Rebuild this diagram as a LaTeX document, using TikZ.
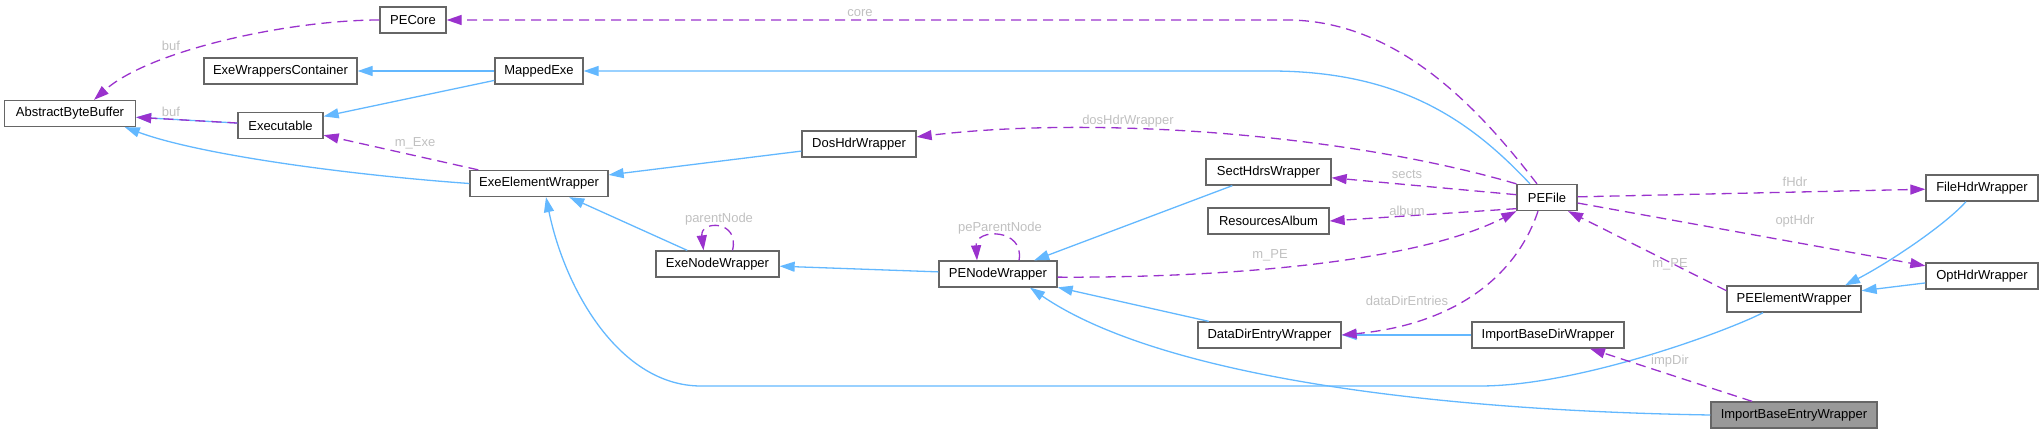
\documentclass[tikz,border=0pt]{standalone}
\usepackage{fontspec}
\setmainfont{Liberation Sans}
\usetikzlibrary{arrows.meta}
\definecolor{inhblue}{HTML}{63B8FF}
\definecolor{usepurple}{HTML}{9A32CD}
\definecolor{boxgrey}{HTML}{666666}
\definecolor{labgrey}{HTML}{C0C0C0}
\definecolor{hlfill}{HTML}{999999}
\tikzset{
  cls/.style={draw=boxgrey,fill=white,line width=1.3pt,minimum height=26pt,inner sep=2pt,font=\fontsize{13}{15}\selectfont},
  hlcls/.style={cls,fill=hlfill},
  inh/.style={draw=inhblue,line width=1.3pt,-{Triangle[length=15pt,width=10pt]}},
  uses/.style={draw=usepurple,line width=1.3pt,dash pattern=on 10pt off 6pt,-{Triangle[length=15pt,width=10pt]}},
  lab/.style={font=\fontsize{13}{15}\selectfont,text=labgrey,inner sep=0pt},
}

\begin{document}
\begin{tikzpicture}[x=1pt,y=-1pt]
  \useasboundingbox (0,0) rectangle (2043,433);
  % classes
  \node[cls,minimum width=66pt] (pecore) at (413,20) {PECore};
  \node[cls,minimum width=153pt] (wrapcont) at (280.5,71) {ExeWrappersContainer};
  \node[cls,minimum width=88pt] (mappedexe) at (539,71) {MappedExe};
  \node[cls,minimum width=131pt] (absbuf) at (70,113.5) {AbstractByteBuffer};
  \node[cls,minimum width=85pt] (executable) at (280.5,125.5) {Executable};
  \node[cls,minimum width=138pt] (exeelem) at (539,183.5) {ExeElementWrapper};
  \node[cls,minimum width=114pt] (doshdr) at (859,144) {DosHdrWrapper};
  \node[cls,minimum width=125pt] (secthdrs) at (1268.5,172) {SectHdrsWrapper};
  \node[cls,minimum width=121pt] (resalbum) at (1268.5,221) {ResourcesAlbum};
  \node[cls,minimum width=60pt] (pefile) at (1547,197.5) {PEFile};
  \node[cls,minimum width=112pt] (filehdr) at (1982,188) {FileHdrWrapper};
  \node[cls,minimum width=112pt] (opthdr) at (1982,276) {OptHdrWrapper};
  \node[cls,minimum width=134pt] (peelem) at (1794,299) {PEElementWrapper};
  \node[cls,minimum width=123pt] (exenode) at (717.5,264) {ExeNodeWrapper};
  \node[cls,minimum width=118pt] (penode) at (998,274) {PENodeWrapper};
  \node[cls,minimum width=143pt] (datadir) at (1269.5,335) {DataDirEntryWrapper};
  \node[cls,minimum width=152pt] (impdir) at (1548,335) {ImportBaseDirWrapper};
  \node[hlcls,minimum width=166pt] (impentry) at (1794,415) {ImportBaseEntryWrapper};
  % inheritance
  \draw[inh] (mappedexe) -- (wrapcont);
  \draw[inh] ([xshift=-17pt]pefile.north) .. controls (1470,120) and (1400,71) .. (1270,71) -- (mappedexe.east);
  \draw[inh] (mappedexe) -- (executable);
  \draw[inh] (executable) -- (absbuf);
  \draw[inh] (exeelem.west) .. controls (350,175) and (200,155) .. (absbuf.-14);
  \draw[inh] (doshdr) -- (exeelem);
  \draw[inh] (exenode) -- (exeelem);
  \draw[inh] (penode) -- (exenode);
  \draw[inh] (secthdrs) -- (penode);
  \draw[inh] (datadir) -- (penode);
  \draw[inh] (impdir) -- (datadir);
  \draw[inh] ([xshift=-16pt]filehdr.south) .. controls (1945,225) and (1890,262) .. ([xshift=51pt]peelem.north);
  \draw[inh] (opthdr) -- (peelem);
  \draw[inh] ([xshift=-31pt]peelem.south) .. controls (1730,330) and (1580,386) .. (1480,386) -- (701,386)
    .. controls (620,386) and (565,290) .. ([xshift=7pt]exeelem.south);
  \draw[inh] (impentry.west) .. controls (1400,410) and (1150,370) .. ([xshift=32pt]penode.south);
  % members
  \draw[uses] (pecore.west) .. controls (290,20) and (150,50) .. ([xshift=24pt]absbuf.north);
  \draw[uses] ([xshift=-10pt]pefile.north) .. controls (1480,110) and (1400,22) .. (1290,20) -- (pecore.east);
  \draw[uses] (executable) -- (absbuf);
  \draw[uses] (exeelem) -- (executable);
  \draw[uses] (pefile.north west) .. controls (1350,135) and (1100,115) .. (doshdr.7);
  \draw[uses] ([xshift=15pt]exenode.north) .. controls (740,220) and (700,220) .. ([xshift=-14pt]exenode.north);
  \draw[uses] ([xshift=21pt]penode.north) .. controls (1025,228) and (975,228) .. ([xshift=-21pt]penode.north);
  \draw[uses] (pefile) -- (secthdrs);
  \draw[uses] (pefile.200) -- (resalbum.east);
  \draw[uses] (penode.-3) .. controls (1200,278) and (1410,266) .. (pefile.south west);
  \draw[uses] ([xshift=-9pt]pefile.south) .. controls (1515,280) and (1450,325) .. (datadir.east);
  \draw[uses] (pefile) -- (filehdr);
  \draw[uses] (pefile) -- (opthdr);
  \draw[uses] (peelem.173) -- (pefile.-33);
  \draw[uses] (impentry) -- (impdir);
  % edge labels
  \node[lab] (lbufa) at (171,46) {buf};
  \node[lab] (lcore) at (860,13) {core};
  \node[lab] (lbufb) at (171,112) {buf};
  \node[lab] (lexe) at (415,143) {m\_Exe};
  \node[lab] (ldos) at (1128,121) {dosHdrWrapper};
  \node[lab] (lparent) at (719,219) {parentNode};
  \node[lab] (lpeparent) at (1000,228) {peParentNode};
  \node[lab] (lsects) at (1407,174) {sects};
  \node[lab] (lalbum) at (1407,211) {album};
  \node[lab] (lpea) at (1270,255) {m\_PE};
  \node[lab] (ldata) at (1407,301) {dataDirEntries};
  \node[lab] (lfhdr) at (1795,182) {fHdr};
  \node[lab] (lopt) at (1795,221) {optHdr};
  \node[lab] (lpeb) at (1670,264) {m\_PE};
  \node[lab] (limp) at (1670,361) {impDir};
\end{tikzpicture}
\end{document}
